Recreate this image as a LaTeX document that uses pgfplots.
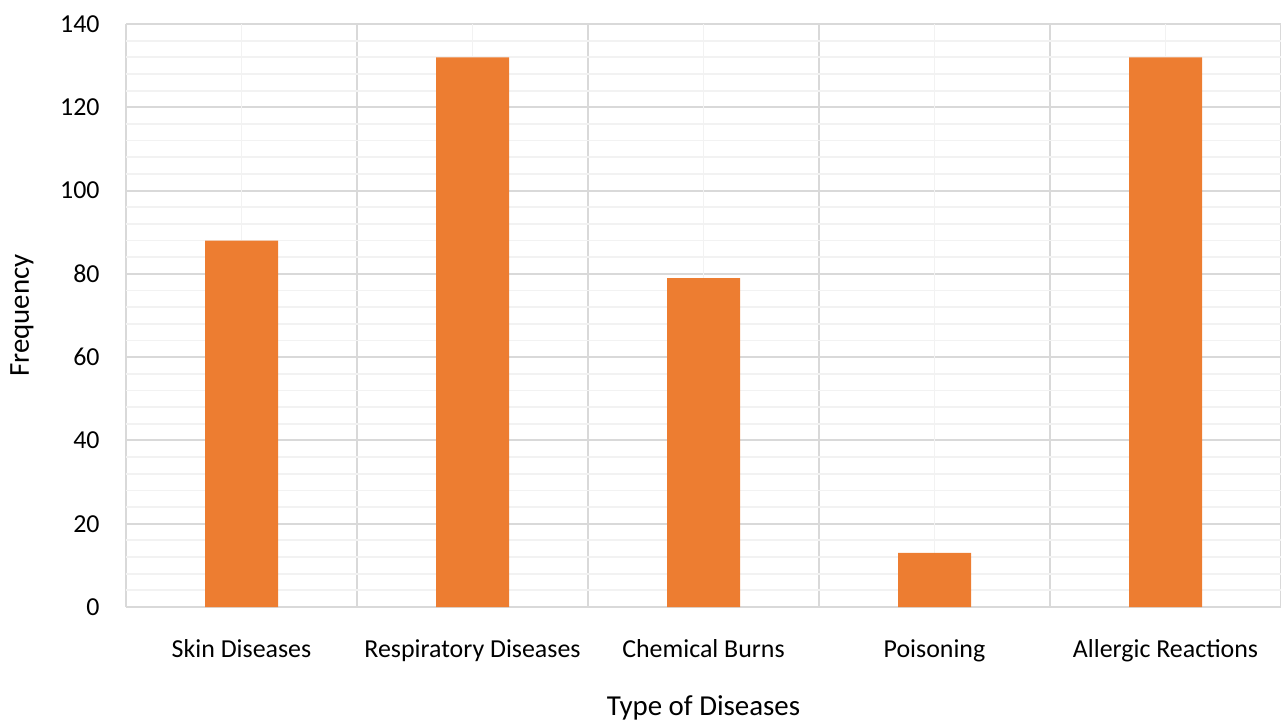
\documentclass[border=0pt]{standalone}
\usepackage{pgfplots}
\pgfplotsset{compat=1.18}
\usepackage{fontspec}
\setmainfont{Carlito}
\definecolor{barorange}{HTML}{ED7D31}
\definecolor{gridmajor}{HTML}{D9D9D9}
\definecolor{gridminor}{HTML}{F2F2F2}
\begin{document}
\begin{tikzpicture}
\begin{axis}[
  name=ax,
  scale only axis,
  width=577.5bp, height=291.5bp,
  xmin=0.5, xmax=5.5, ymin=0, ymax=140,
  ybar, bar width=36.5bp,
  axis line style={draw=none},
  tick style={draw=none},
  major tick length=0pt, minor tick length=0pt,
  xtick={0.5,1.5,2.5,3.5,4.5,5.5}, xticklabels={},
  xmajorgrids,
  extra x ticks={1,2,3,4,5},
  extra x tick labels={Skin Diseases,Respiratory Diseases,Chemical Burns,Poisoning,Allergic Reactions},
  extra x tick style={grid=major, major grid style={draw=gridminor, line width=0.9bp}, xticklabel style={anchor=north, inner sep=0pt, yshift=-16bp}},
  ytick={0,20,...,140}, minor y tick num=4,
  ymajorgrids, yminorgrids,
  major grid style={draw=gridmajor, line width=1bp},
  minor grid style={draw=gridminor, line width=0.9bp},
  /pgf/number format/assume math mode=true,
  tick label style={font=\fontsize{13}{15}\selectfont, text=black},
  yticklabel style={anchor=east, inner sep=0pt, xshift=-13bp},
  xlabel={Type of Diseases}, ylabel={Frequency},
  label style={font=\fontsize{14.5}{17}\selectfont},
  xlabel style={at={(axis description cs:0.5,0)}, anchor=center, yshift=-50.5bp},
  ylabel style={at={(axis description cs:0,0.5)}, anchor=center, rotate=0, yshift=52bp},
]
\addplot[fill=barorange, draw=none, bar shift=0pt] coordinates {(1,88) (2,132) (3,79) (4,13) (5,132)};
\end{axis}
\pgfresetboundingbox
\path ([xshift=-63bp,yshift=-58bp]ax.south west) rectangle ([yshift=12bp]ax.north east);
\end{tikzpicture}
\end{document}
